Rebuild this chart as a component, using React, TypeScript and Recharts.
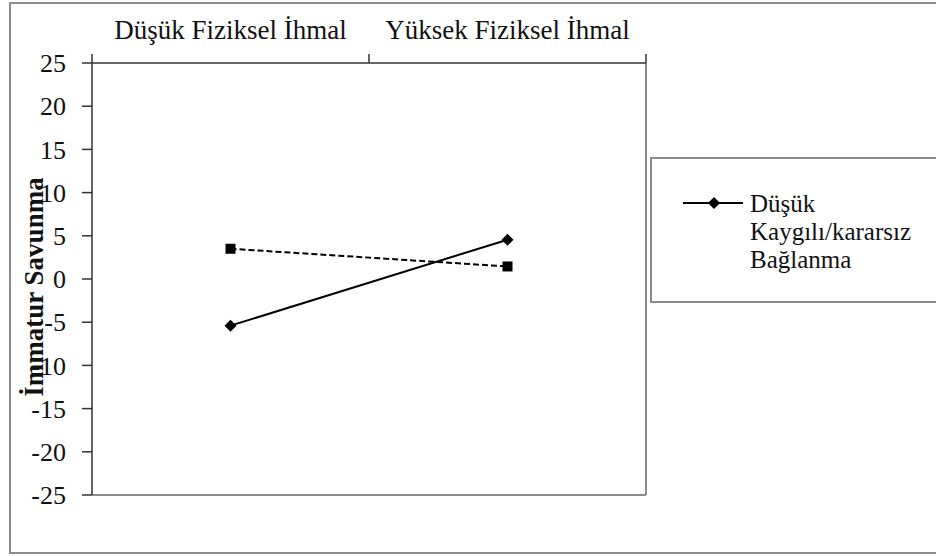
import React from 'react';
import { LineChart, Line, XAxis, YAxis, Legend, ReferenceLine } from 'recharts';

const categories = ['Düşük Fiziksel İhmal', 'Yüksek Fiziksel İhmal'];
const lowAnxious = [-5.4, 4.55];
const highAnxious = [3.5, 1.45];
const yTicks = [-25, -20, -15, -10, -5, 0, 5, 10, 15, 20, 25];
const xTicks = [0, 0.5, 1, 1.5, 2];
const seriesNames = ['Düşük Kaygılı/kararsız Bağlanma', 'Yüksek Kaygılı/kararsız Bağlanma'];

const data = categories.map((name, i) => ({
  x: i + 0.5,
  name,
  low: lowAnxious[i],
  high: highAnxious[i],
}));

const FONT = '"Liberation Serif", "Times New Roman", serif';
const AXIS = '#333';
const FRAME = '#8c8c8c';

// top axis: category names between ticks, tick marks on the boundaries
const TopTick = ({ x, y, payload }: any) => {
  const v = payload.value;
  if (Number.isInteger(v)) {
    return <line x1={x} x2={x} y1={y} y2={y + 9} stroke={AXIS} strokeWidth={1.5} />;
  }
  return (
    <text x={x} y={y - 15} textAnchor="middle" fill="#111" fontSize={27} fontFamily={FONT}>
      {categories[Math.floor(v)]}
    </text>
  );
};

const YLabel = ({ viewBox }: any) => {
  const vb = viewBox || { x: 0, y: 63, width: 92, height: 432 };
  const cx = vb.x + 43;
  const cy = vb.y + vb.height / 2 + 8;
  return (
    <text
      x={cx}
      y={cy}
      transform={`rotate(-90 ${cx} ${cy})`}
      textAnchor="middle"
      fill="#111"
      fontSize={27}
      fontWeight="bold"
      fontFamily={FONT}
    >
      İmmatur Savunma
    </text>
  );
};

const Diamond = ({ cx, cy }: any) => (
  <path d={`M${cx},${cy - 6}L${cx + 6},${cy}L${cx},${cy + 6}L${cx - 6},${cy}Z`} fill="#000" />
);

const Square = ({ cx, cy }: any) => <rect x={cx - 5} y={cy - 5} width={10} height={10} fill="#000" />;

// only the solid series shows in the legend
const LegendBox = ({ payload }: any) => {
  const items = (payload || []).filter((e: any) => e.type !== 'none' && e.value === seriesNames[0]);
  return (
    <div
      style={{
        border: `2px solid ${FRAME}`,
        background: '#fff',
        width: 320,
        height: 146,
        boxSizing: 'border-box',
        paddingTop: 31,
        paddingLeft: 31,
        fontFamily: FONT,
        fontSize: 25,
        lineHeight: '28px',
        color: '#111',
        textAlign: 'left',
      }}
    >
      {items.map((entry: any) => (
        <div key={entry.value} style={{ display: 'flex', alignItems: 'flex-start' }}>
          <svg width={67} height={28} style={{ flex: 'none' }}>
            <line x1={0} x2={60} y1={13} y2={13} stroke="#000" strokeWidth={2} />
            <path d="M31,7L37,13L31,19L25,13Z" fill="#000" />
          </svg>
          <div>
            {String(entry.value)
              .split(' ')
              .map((w) => (
                <div key={w}>{w}</div>
              ))}
          </div>
        </div>
      ))}
    </div>
  );
};

export default function App() {
  return (
    <div
      style={{
        position: 'absolute',
        left: 0,
        top: 0,
        width: 936,
        height: 556,
        overflow: 'hidden',
        background: '#fff',
      }}
    >
      <div
        style={{
          position: 'absolute',
          left: 9,
          top: 2,
          width: 960,
          height: 552,
          border: `2px solid ${FRAME}`,
          boxSizing: 'border-box',
        }}
      />
      <div style={{ position: 'absolute', left: 0, top: 0 }}>
        <LineChart width={936} height={556} data={data} margin={{ top: 13, right: 290, left: 0, bottom: 61 }}>
          <XAxis
            type="number"
            dataKey="x"
            orientation="top"
            domain={[0, 2]}
            ticks={xTicks}
            interval={0}
            height={50}
            tickSize={9}
            tickMargin={0}
            tickLine={{ stroke: 'none' }}
            stroke={AXIS}
            strokeWidth={1.5}
            tick={<TopTick />}
          />
          <YAxis
            domain={[-25, 25]}
            ticks={yTicks}
            interval={0}
            width={92}
            tickSize={10}
            tickMargin={16}
            stroke={AXIS}
            strokeWidth={1.5}
            tick={{ fill: '#111', fontSize: 26, fontFamily: FONT }}
            label={<YLabel />}
          />
          <ReferenceLine x={2} stroke={FRAME} strokeWidth={2} />
          <ReferenceLine y={-25} stroke={FRAME} strokeWidth={2} />
          <Legend
            content={<LegendBox />}
            layout="horizontal"
            verticalAlign="middle"
            align="center"
            wrapperStyle={{ left: 650, top: 157, width: 320, height: 146 }}
          />
          <Line
            name={seriesNames[1]}
            dataKey="high"
            stroke="#000"
            strokeWidth={2}
            strokeDasharray="6 3"
            dot={(p: any) => <Square key={`sq-${p.index}`} {...p} />}
            legendType="none"
            isAnimationActive={false}
          />
          <Line
            name={seriesNames[0]}
            dataKey="low"
            stroke="#000"
            strokeWidth={2}
            dot={(p: any) => <Diamond key={`dm-${p.index}`} {...p} />}
            isAnimationActive={false}
          />
        </LineChart>
      </div>
    </div>
  );
}
